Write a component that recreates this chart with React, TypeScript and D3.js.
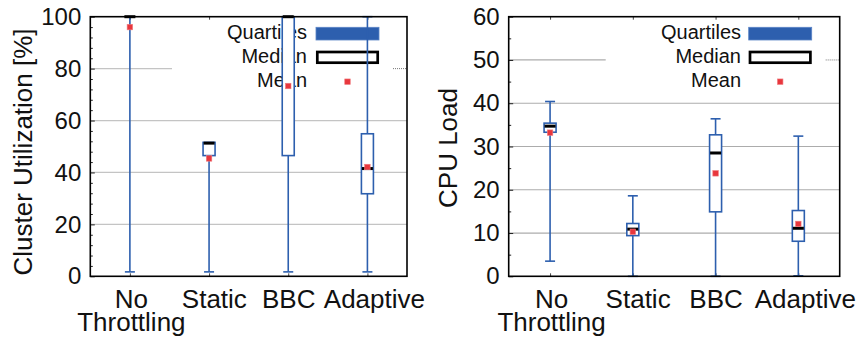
import { useEffect, useRef } from "react"
import * as d3 from "d3"

// categories shared by both panels
const categories = ["No\nThrottling", "Static", "BBC", "Adaptive"]

// cluster utilization [%]
const utilMin = [1.7, 1.7, 1.7, 1.7]
const utilQ1 = [100, 46.5, 46.5, 31.8]
const utilMedian = [100, 51.3, 100, 41.5]
const utilQ3 = [100, 51.6, 100, 54.9]
const utilMax = [100, 51.6, 100, 100]
const utilMean = [96, 45.4, 73.3, 42.1]

// CPU load
const cpuMin = [3.5, 0, 0, 0.1]
const cpuQ1 = [33.3, 9.4, 14.9, 8.1]
const cpuMedian = [34.7, 10.9, 28.5, 11.1]
const cpuQ3 = [35.4, 12.2, 32.7, 15.2]
const cpuMax = [40.4, 18.6, 36.4, 32.4]
const cpuMean = [33.2, 10.3, 23.8, 12.1]

const utilTicks = [0, 20, 40, 60, 80, 100]
const cpuTicks = [0, 10, 20, 30, 40, 50, 60]

const legendLabels = ["Quartiles", "Median", "Mean"]

const BLUE = "#2d5fae"
const RED = "#e8373d"
const FONT = "'Liberation Sans', Arial, Helvetica, sans-serif"

// the original labels sit a little right of their ticks
const labelShift = [1.5, 5.3, 0.5, 7]

interface PanelSpec {
  left: number
  right: number
  top: number
  bottom: number
  yMax: number
  ticks: number[]
  minorStep: number
  title: string
  titleX: number
  titleY: number
  gridColor: string
  partialTick: number
  partialEnd: number
  legendTextX: number
  min: number[]
  q1: number[]
  median: number[]
  q3: number[]
  max: number[]
  mean: number[]
}

const panels: PanelSpec[] = [
  {
    left: 90.3, right: 407, top: 16.7, bottom: 276.3,
    yMax: 100, ticks: utilTicks, minorStep: 4,
    title: "Cluster Utilization [%]", titleX: 31.5, titleY: 152,
    gridColor: "#c4c4c4", partialTick: 80, partialEnd: 172, legendTextX: 307,
    min: utilMin, q1: utilQ1, median: utilMedian, q3: utilQ3, max: utilMax, mean: utilMean,
  },
  {
    left: 508.7, right: 839.7, top: 16.7, bottom: 276.3,
    yMax: 60, ticks: cpuTicks, minorStep: 5,
    title: "CPU Load", titleX: 456.5, titleY: 148,
    gridColor: "#acacac", partialTick: 50, partialEnd: 605.7, legendTextX: 741,
    min: cpuMin, q1: cpuQ1, median: cpuMedian, q3: cpuQ3, max: cpuMax, mean: cpuMean,
  },
]

export default function App() {
  const svgRef = useRef<SVGSVGElement>(null)

  useEffect(() => {
    if (!svgRef.current) return
    const svg = d3.select(svgRef.current)
    svg.selectAll("*").remove()

    panels.forEach((p) => {
      const g = svg.append("g")
      const x = d3.scaleLinear().domain([0.5, 4.5]).range([p.left, p.right])
      const y = d3.scaleLinear().domain([0, p.yMax]).range([p.bottom, p.top])
      const idx = categories.map((_, i) => i)

      // grid lines (the top one is partly hidden behind the key)
      p.ticks.filter((t) => t > 0 && t < p.yMax).forEach((t) => {
        const partial = t === p.partialTick
        g.append("line")
          .attr("x1", p.left).attr("x2", partial ? p.partialEnd : p.right)
          .attr("y1", y(t)).attr("y2", y(t))
          .attr("stroke", p.gridColor).attr("stroke-width", 1.2)
        if (partial) {
          g.append("line")
            .attr("x1", p.right - 14).attr("x2", p.right - 1)
            .attr("y1", y(t)).attr("y2", y(t))
            .attr("stroke", "#777").attr("stroke-width", 1)
            .attr("stroke-dasharray", "1,1")
        }
      })

      // minor ticks
      const minor = d3.range(0, p.yMax + 0.001, p.minorStep).filter((v) => !p.ticks.includes(v))
      g.append("g")
        .attr("transform", `translate(${p.left},0)`)
        .call(d3.axisLeft(y).tickValues(minor).tickSize(-2.5).tickFormat(() => ""))
        .call((a) => a.select(".domain").remove())
        .selectAll("line").attr("stroke", "#222")

      // major ticks + labels
      g.append("g")
        .attr("transform", `translate(${p.left},0)`)
        .call(d3.axisLeft(y).tickValues(p.ticks).tickSize(-4.5).tickPadding(9).tickFormat(d3.format("d")))
        .call((a) => a.select(".domain").remove())
        .call((a) => a.selectAll("line").attr("stroke", "#222"))
        .selectAll("text")
        .attr("font-family", FONT).attr("font-size", 24).attr("fill", "#111")

      // category ticks bottom and top
      g.append("g")
        .attr("transform", `translate(0,${p.bottom})`)
        .call(d3.axisBottom(x).tickValues([1, 2, 3, 4]).tickSize(-3).tickFormat(() => ""))
        .call((a) => a.select(".domain").remove())
        .selectAll("line").attr("stroke", "#444")
      g.append("g")
        .attr("transform", `translate(0,${p.top})`)
        .call(d3.axisTop(x).tickValues([1, 2, 3, 4]).tickSize(-3).tickFormat(() => ""))
        .call((a) => a.select(".domain").remove())
        .selectAll("line").attr("stroke", "#444")

      // category labels
      categories.forEach((c, i) => {
        const lines = c.split("\n")
        const t = g.append("text")
          .attr("font-family", FONT).attr("font-size", 26).attr("fill", "#111")
          .attr("text-anchor", "middle")
        lines.forEach((ln, j) => {
          t.append("tspan").attr("x", x(i + 1) + labelShift[i]).attr("y", p.bottom + 32 + j * 23).text(ln)
        })
      })

      // axis title
      g.append("text")
        .attr("transform", `translate(${p.titleX},${p.titleY}) rotate(-90)`)
        .attr("text-anchor", "middle")
        .attr("font-family", FONT).attr("font-size", 26).attr("fill", "#111")
        .text(p.title)

      // legend
      const ly = [38.5, 62.5, 86.5]
      legendLabels.forEach((l, i) => {
        g.append("text")
          .attr("x", p.legendTextX).attr("y", ly[i])
          .attr("text-anchor", "end")
          .attr("font-family", FONT).attr("font-size", 20).attr("fill", "#111")
          .text(l)
      })
      const sx0 = p.right - 91
      const sx1 = p.right - 28
      g.append("rect")
        .attr("x", sx0).attr("y", 27.3).attr("width", sx1 - sx0).attr("height", 12.7)
        .attr("fill", BLUE).attr("stroke", "#5a84c6").attr("stroke-width", 0.8)
      g.append("rect")
        .attr("x", sx0 + 1.3).attr("y", 52).attr("width", sx1 - sx0 - 2.6).attr("height", 10.7)
        .attr("fill", "#fff").attr("stroke", "#000").attr("stroke-width", 2.7)

      const bw = 12
      const cw = 10

      // whiskers
      g.selectAll(".whisker").data(idx).enter().append("line")
        .attr("x1", (i) => x(i + 1)).attr("x2", (i) => x(i + 1))
        .attr("y1", (i) => y(p.min[i])).attr("y2", (i) => y(p.max[i]))
        .attr("stroke", BLUE).attr("stroke-width", 1.6)
      ;[p.min, p.max].forEach((arr) => {
        g.selectAll(null).data(idx.filter((i) => arr !== p.max || p.max[i] > p.q3[i])).enter().append("line")
          .attr("x1", (i) => x(i + 1) - cw / 2).attr("x2", (i) => x(i + 1) + cw / 2)
          .attr("y1", (i) => y(arr[i])).attr("y2", (i) => y(arr[i]))
          .attr("stroke", BLUE).attr("stroke-width", 1.6)
      })

      // boxes
      g.selectAll(null).data(idx).enter().append("rect")
        .attr("x", (i) => x(i + 1) - bw / 2)
        .attr("y", (i) => y(p.q3[i]))
        .attr("width", bw)
        .attr("height", (i) => y(p.q1[i]) - y(p.q3[i]))
        .attr("fill", "#fff").attr("stroke", BLUE).attr("stroke-width", 1.6)

      // medians
      g.selectAll(null).data(idx).enter().append("line")
        .attr("x1", (i) => x(i + 1) - bw / 2 + 0.5).attr("x2", (i) => x(i + 1) + bw / 2 - 0.5)
        .attr("y1", (i) => y(p.median[i])).attr("y2", (i) => y(p.median[i]))
        .attr("stroke", "#000").attr("stroke-width", 3)

      // means
      const ms = 5.5
      g.selectAll(null).data(idx).enter().append("rect")
        .attr("x", (i) => x(i + 1) - ms / 2).attr("y", (i) => y(p.mean[i]) - ms / 2)
        .attr("width", ms).attr("height", ms)
        .attr("fill", RED).attr("stroke", "#f07a7e").attr("stroke-width", 0.6)
      g.append("rect")
        .attr("x", (sx0 + sx1) / 2 - ms / 2).attr("y", 81.7 - ms / 2)
        .attr("width", ms).attr("height", ms)
        .attr("fill", RED).attr("stroke", "#f07a7e").attr("stroke-width", 0.6)

      // frame
      g.append("rect")
        .attr("x", p.left).attr("y", p.top)
        .attr("width", p.right - p.left).attr("height", p.bottom - p.top)
        .attr("fill", "none").attr("stroke", "#000").attr("stroke-width", 1.6)
    })
  }, [])

  return (
    <svg
      ref={svgRef}
      width={859}
      height={341}
      style={{ position: "absolute", left: 0, top: 0, background: "#fff" }}
    />
  )
}
